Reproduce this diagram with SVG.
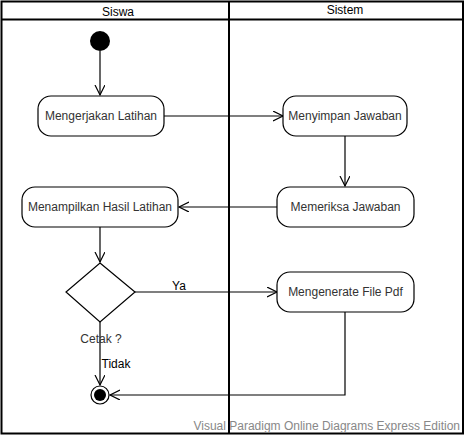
<svg xmlns="http://www.w3.org/2000/svg" width="466" height="437" viewBox="0 0 466 437">
<defs>
<style>
.frame{fill:none;stroke:#000;stroke-width:2}
.node rect{fill:#fff;stroke:#000;stroke-width:1.2}
.node text, .lbl{font-family:"Liberation Sans",Arial,sans-serif;font-size:12px;fill:#333;text-anchor:middle}
.hdr{font-family:"Liberation Sans",Arial,sans-serif;font-size:12px;fill:#000;text-anchor:middle}
.conn{fill:none;stroke:#000;stroke-width:1.2}
.wm{font-family:"Liberation Sans",Arial,sans-serif;font-size:12px;fill:#888;text-anchor:end}
</style>
<marker id="arr" markerWidth="12" markerHeight="12" refX="10" refY="5" orient="auto" markerUnits="userSpaceOnUse">
<path d="M0,0 L10,5 L0,10" fill="none" stroke="#000" stroke-width="1.2"/>
</marker>
</defs>
<rect width="466" height="437" fill="#fff"/>
<g id="swimlanes">
<rect class="frame" x="1.5" y="1.5" width="461.5" height="432"/>
<line class="frame" x1="1.5" y1="19.5" x2="463" y2="19.5"/>
<line class="frame" x1="229" y1="1.5" x2="229" y2="433.5"/>
<text class="hdr" x="118" y="16">Siswa</text>
<text class="hdr" x="345" y="14">Sistem</text>
</g>
<g id="connectors">
<line class="conn" x1="100" y1="51" x2="100" y2="95" marker-end="url(#arr)"/>
<line class="conn" x1="164" y1="116" x2="283" y2="116" marker-end="url(#arr)"/>
<line class="conn" x1="345" y1="136" x2="345" y2="186" marker-end="url(#arr)"/>
<line class="conn" x1="277" y1="207" x2="179" y2="207" marker-end="url(#arr)"/>
<line class="conn" x1="100" y1="227" x2="100" y2="262" marker-end="url(#arr)"/>
<line class="conn" x1="135" y1="292" x2="277" y2="292" marker-end="url(#arr)"/>
<line class="conn" x1="100" y1="322" x2="100" y2="385" marker-end="url(#arr)"/>
<polyline class="conn" points="345,312 345,395 110,395" marker-end="url(#arr)"/>
<text class="lbl" x="179" y="290" style="fill:#000">Ya</text>
<text class="lbl" x="101" y="343">Cetak ?</text>
<text class="lbl" x="116" y="368" style="fill:#000">Tidak</text>
</g>
<g id="start"><circle cx="100" cy="41" r="10" fill="#000"/></g>
<g id="n1" class="node"><rect x="38" y="96" width="126" height="40" rx="13"/><text x="101" y="120">Mengerjakan Latihan</text></g>
<g id="n2" class="node"><rect x="283" y="96" width="124" height="40" rx="13"/><text x="345" y="120">Menyimpan Jawaban</text></g>
<g id="n3" class="node"><rect x="277" y="187" width="137" height="40" rx="13"/><text x="345.5" y="211">Memeriksa Jawaban</text></g>
<g id="n4" class="node"><rect x="22" y="187" width="156" height="40" rx="13"/><text x="100" y="211">Menampilkan Hasil Latihan</text></g>
<g id="decision"><polygon points="100,263 135,292 100,322 66,292" fill="#fff" stroke="#000" stroke-width="1.2"/></g>
<g id="n5" class="node"><rect x="277" y="272" width="137" height="40" rx="13"/><text x="345.5" y="296">Mengenerate File Pdf</text></g>
<g id="end"><circle cx="100" cy="395" r="9" fill="#fff" stroke="#000" stroke-width="1.2"/><circle cx="100" cy="395" r="6" fill="#000"/></g>
<text class="wm" x="460" y="430">Visual Paradigm Online Diagrams Express Edition</text>
</svg>
